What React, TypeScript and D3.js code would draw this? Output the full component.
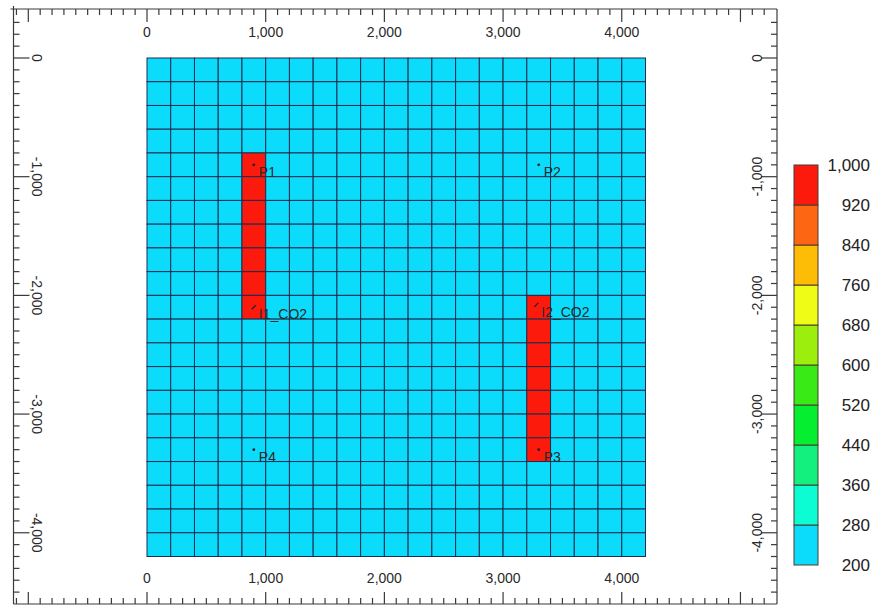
import React from "react";
import * as d3 from "d3";

// ---- data ----
const gridCellsX = 21;
const gridCellsY = 21;
const cellSize = 200; // metres
const basePerm = 200;
const highPerm = 1000;
// high-perm streaks: [column, rowStart, rowEnd]
const streakColumns = [4, 16];
const streakRowStart = [4, 10];
const streakRowEnd = [10, 16];

const xTickValues = [0, 1000, 2000, 3000, 4000];
const yTickValues = [0, -1000, -2000, -3000, -4000];

const colorBreaks = [200, 280, 360, 440, 520, 600, 680, 760, 840, 920, 1000];
const binColors = [
  "#0cdcfb",
  "#0cfcd4",
  "#14f07e",
  "#06ee30",
  "#3aea16",
  "#9cee0c",
  "#eefc16",
  "#fdbc06",
  "#fd6612",
  "#fb1a0c",
];

const wellNames = ["P1", "P2", "I1_CO2", "I2_CO2", "P4", "P3"];
const wellX = [900, 3300, 900, 3280, 900, 3300];
const wellY = [-900, -900, -2100, -2080, -3300, -3300];
const wellIsInjector = [false, false, true, true, false, false];

// ---- layout ----
const W = 875;
const H = 607;
const frame = { left: 13.5, right: 777, top: 9, bottom: 604 };
const FONT = "'Liberation Sans', Arial, sans-serif";

const fmt = d3
  .formatLocale({ decimal: ".", thousands: ",", grouping: [3], currency: ["$", ""], minus: "-" })
  .format(",");

export default function App() {
  const x = d3.scaleLinear().domain([0, gridCellsX * cellSize]).range([147, 645.5]);
  const y = d3.scaleLinear().domain([0, -gridCellsY * cellSize]).range([58, 556.5]);
  const cbY = d3.scaleLinear().domain([200, 1000]).range([565, 165]);
  const color = d3.scaleThreshold<number, string>().domain(colorBreaks.slice(1, -1)).range(binColors);

  // build cell values
  const cells: { c: number; r: number; v: number }[] = [];
  for (let r = 0; r < gridCellsY; r++) {
    for (let c = 0; c < gridCellsX; c++) {
      let v = basePerm;
      streakColumns.forEach((col, i) => {
        if (c === col && r >= streakRowStart[i] && r <= streakRowEnd[i]) v = highPerm;
      });
      cells.push({ c, r, v });
    }
  }

  // ruler ticks every 100 m
  const xMinor = d3.range(
    Math.ceil(x.invert(frame.left) / 100) * 100,
    x.invert(frame.right),
    100
  ).filter((v) => x(v) > frame.left + 2 && x(v) < frame.right - 2);
  const yMinor = d3.range(
    Math.floor(y.invert(frame.top) / 100) * 100,
    y.invert(frame.bottom),
    -100
  ).filter((v) => y(v) > frame.top + 2 && y(v) < frame.bottom - 2);

  const isMajor = (v: number) => Math.abs(v % 1000) < 1e-6;
  const axisColor = "#3a3a3a";
  const textColor = "#2a2a2a";

  return (
    <svg
      width={W}
      height={H}
      style={{ position: "absolute", left: 0, top: 0, background: "#fff" }}
      fontFamily={FONT}
    >
      {/* grid cells */}
      <g>
        {cells.map((d) => (
          <rect
            key={`${d.c}-${d.r}`}
            x={x(d.c * cellSize)}
            y={y(-d.r * cellSize)}
            width={x((d.c + 1) * cellSize) - x(d.c * cellSize)}
            height={y(-(d.r + 1) * cellSize) - y(-d.r * cellSize)}
            fill={color(d.v)}
            stroke="#1e2c4e"
            strokeWidth={1}
          />
        ))}
      </g>

      {/* wells */}
      <g>
        {wellNames.map((n, i) => {
          const cx = x(wellX[i]);
          const cy = y(wellY[i]);
          return (
            <g key={n}>
              {wellIsInjector[i] ? (
                <line x1={cx - 2} y1={cy + 2} x2={cx + 2} y2={cy - 2} stroke="#222" strokeWidth={1.2} />
              ) : (
                <circle cx={cx} cy={cy} r={1.4} fill="#222" />
              )}
              <text x={cx + 5} y={cy + 12} fontSize={14} fill={textColor}>
                {n}
              </text>
            </g>
          );
        })}
      </g>

      {/* frame rulers */}
      <g stroke={axisColor} strokeWidth={1.2}>
        <line x1={frame.left - 3} x2={frame.right} y1={frame.top} y2={frame.top} />
        <line x1={frame.left} x2={frame.right} y1={frame.bottom} y2={frame.bottom} />
        <line x1={frame.left} x2={frame.left} y1={frame.top - 3} y2={frame.bottom} />
        <line x1={frame.right} x2={frame.right} y1={frame.top} y2={frame.bottom} />
        {xMinor.map((v) => (
          <g key={`xt${v}`}>
            <line x1={x(v)} x2={x(v)} y1={frame.top} y2={frame.top + (isMajor(v) ? 13 : 6)} />
            <line x1={x(v)} x2={x(v)} y1={frame.bottom} y2={frame.bottom - (isMajor(v) ? 12 : 6)} />
          </g>
        ))}
        {yMinor.map((v) => (
          <g key={`yt${v}`}>
            <line y1={y(v)} y2={y(v)} x1={frame.left} x2={frame.left + (isMajor(v) ? 16 : 6)} />
            <line y1={y(v)} y2={y(v)} x1={frame.right} x2={frame.right - (isMajor(v) ? 16 : 6)} />
          </g>
        ))}
      </g>

      {/* axis labels */}
      <g fontSize={14} fill={textColor}>
        {xTickValues.map((v) => (
          <g key={`xl${v}`}>
            <text x={x(v)} y={37} textAnchor="middle">
              {fmt(v)}
            </text>
            <text x={x(v)} y={583} textAnchor="middle">
              {fmt(v)}
            </text>
          </g>
        ))}
        {yTickValues.map((v) => (
          <g key={`yl${v}`}>
            <text transform={`translate(37,${y(v)}) rotate(90)`} textAnchor="middle" dy="0.35em">
              {fmt(v)}
            </text>
            <text transform={`translate(757,${y(v)}) rotate(-90)`} textAnchor="middle" dy="0.35em">
              {fmt(v)}
            </text>
          </g>
        ))}
      </g>

      {/* colour bar */}
      <g>
        {binColors.map((c, i) => (
          <rect
            key={`cb${i}`}
            x={794}
            y={cbY(colorBreaks[i + 1])}
            width={24}
            height={cbY(colorBreaks[i]) - cbY(colorBreaks[i + 1])}
            fill={c}
            stroke="#4a3a30"
            strokeWidth={1}
          />
        ))}
        {colorBreaks.map((v) => (
          <text
            key={`cbl${v}`}
            x={870}
            y={cbY(v)}
            dy="0.35em"
            textAnchor="end"
            fontSize={17}
            fill="#222"
          >
            {fmt(v)}
          </text>
        ))}
      </g>
    </svg>
  );
}
